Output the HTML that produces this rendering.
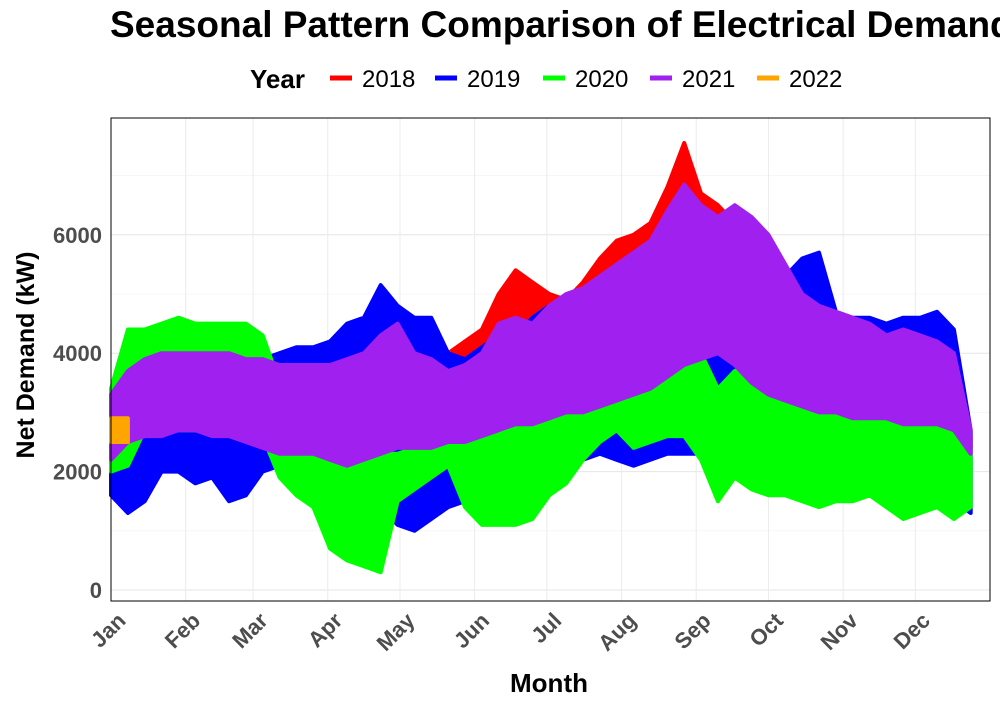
<!DOCTYPE html>
<html><head><meta charset="utf-8"><style>
body{margin:0;background:#fff;overflow:hidden;}
svg{display:block;font-family:"Liberation Sans",Arial,sans-serif;}
</style></head><body>
<svg id="chart" width="1000" height="708" viewBox="0 0 1000 708" xmlns="http://www.w3.org/2000/svg">
<rect x="0" y="0" width="1000" height="708" fill="#fff"/>
<text x="110" y="37" font-size="37" font-weight="bold" fill="#000">Seasonal Pattern Comparison of Electrical Demand</text>
<g id="legend">
<text x="250" y="88" font-size="26" font-weight="bold">Year</text>
</g>
<g id="grid"></g>
<g id="series"></g>
<rect x="111" y="118" width="879" height="483" fill="none" stroke="#000" stroke-width="1"/>
<g id="axes"></g>
<text x="549" y="692" font-size="26" font-weight="bold" text-anchor="middle">Month</text>
<text transform="translate(34,355) rotate(-90)" font-size="25" font-weight="bold" text-anchor="middle">Net Demand (kW)</text>
</svg>
<script>
const months=["Jan","Feb","Mar","Apr","May","Jun","Jul","Aug","Sep","Oct","Nov","Dec"];
const monthStartDay=[0,31,59,90,120,151,181,212,243,273,304,334];
const yTicks=[0,2000,4000,6000];
const years=["2018","2019","2020","2021","2022"];
const colors=["#ff0000","#0000ff","#00ff00","#a020f0","#ffa500"];
// weekly min / max values (kW)
const startWeek2018=20;
const min2018=[3000,3000,3000,3000,3000,3000,3000,3000,3000,3000,3000,3000,3000,3000,3000,3000,3000,3000,3000,3000,3000,3000,3000,3000,3000,3000,3000,3000,3000,3000,2800,2400];
const max2018=[4000,4200,4400,5000,5400,5200,5000,4900,5200,5600,5900,6000,6200,6800,7550,6700,6500,6200,6000,5950,5000,4800,4700,4600,4400,4300,4300,4300,3900,3600,3400,2600];
const min2019=[1600,1300,1500,2000,2000,1800,1900,1500,1600,2000,2100,1900,1800,1500,1500,1600,1400,1100,1000,1200,1400,1500,1600,1700,1800,1900,2000,2100,2200,2300,2200,2100,2200,2300,2300,2300,2400,2300,2200,2200,2000,2100,2200,2000,2000,2000,1900,2000,1800,1700,1500,1300];
const max2019=[2800,2900,2900,2900,2900,2900,2900,2900,3500,3900,4000,4100,4100,4200,4500,4600,5150,4800,4600,4600,4000,3900,4100,4300,4300,4600,4800,4900,4700,4500,4600,4900,5000,5300,5000,4900,5100,5300,5000,5300,5300,5600,5700,4700,4600,4600,4500,4600,4600,4700,4400,2700];
const min2020=[2000,2100,2700,2700,2700,2700,2700,2700,2700,2600,1900,1600,1400,700,500,400,300,1500,1700,1900,2100,1400,1100,1100,1100,1200,1600,1800,2200,2500,2700,2400,2500,2600,2600,2200,1500,1900,1700,1600,1600,1500,1400,1500,1500,1600,1400,1200,1300,1400,1200,1400];
const max2020=[3400,4400,4400,4500,4600,4500,4500,4500,4500,4300,3500,3100,2900,2400,2300,2300,2300,2300,2400,2600,2800,2900,2900,3000,3100,3000,3400,3600,3700,3700,3900,3900,4000,4000,3900,4000,3400,3700,3800,3800,3800,3400,3300,3100,3100,3200,3100,3200,3000,3200,3000,2700];
const min2021=[2200,2500,2600,2600,2700,2700,2600,2600,2500,2400,2300,2300,2300,2200,2100,2200,2300,2400,2400,2400,2500,2500,2600,2700,2800,2800,2900,3000,3000,3100,3200,3300,3400,3600,3800,3900,4000,3800,3500,3300,3200,3100,3000,3000,2900,2900,2900,2800,2800,2800,2700,2300];
const max2021=[3300,3700,3900,4000,4000,4000,4000,4000,3900,3900,3800,3800,3800,3800,3900,4000,4300,4500,4000,3900,3700,3800,4000,4500,4600,4500,4800,5000,5100,5300,5500,5700,5900,6400,6850,6500,6300,6500,6300,6000,5500,5000,4800,4700,4600,4500,4300,4400,4300,4200,4000,2700];
const startWeek2022=0;
const min2022=[2500,2500];
const max2022=[2900,2900];

const X0=111,X1=990,Y0=590,YK=0.0592;
const xDay=d=>X0+d*(X1-X0)/365;
const xWeek=w=>xDay(w*7);
const yVal=v=>Y0-v*YK;
const NS="http://www.w3.org/2000/svg";
function mk(tag,attrs,parent){const e=document.createElementNS(NS,tag);for(const k in attrs)e.setAttribute(k,attrs[k]);parent.appendChild(e);return e;}

const grid=document.getElementById('grid');
for(let v=0;v<=7000;v+=1000){
  const l=mk('line',{x1:X0,x2:X1,y1:yVal(v),y2:yVal(v),stroke:v%2000===0?'#e6e6e6':'#f0f0f0','stroke-width':v%2000===0?1:0.6},grid);
  
  
}
monthStartDay.forEach(d=>{
  const l=mk('line',{x1:xDay(d),x2:xDay(d),y1:118,y2:601,stroke:'#ebebeb','stroke-width':1},grid);
  
  
});

const seriesG=document.getElementById('series');
function band(mins,maxs,start,color,name){
  const pts=[];
  for(let i=0;i<maxs.length;i++)pts.push(xWeek(start+i).toFixed(1)+','+yVal(maxs[i]).toFixed(1));
  for(let i=mins.length-1;i>=0;i--)pts.push(xWeek(start+i).toFixed(1)+','+yVal(mins[i]).toFixed(1));
  const p=mk('polygon',{points:pts.join(' '),fill:color,stroke:color,'stroke-width':4,'stroke-linejoin':'round'},seriesG);
  
  
}
band(min2018,max2018,startWeek2018,colors[0],'series-2018');
band(min2019,max2019,0,colors[1],'series-2019');
band(min2020,max2020,0,colors[2],'series-2020');
band(min2021,max2021,0,colors[3],'series-2021');
band(min2022,max2022,startWeek2022,colors[4],'series-2022');

const axes=document.getElementById('axes');
yTicks.forEach(v=>{
  const t=mk('text',{x:102,y:yVal(v)+8,'font-size':22,'font-weight':'bold',fill:'#4d4d4d','text-anchor':'end'},axes);
  t.textContent=v;
  
  
});
months.forEach((m,i)=>{
  const x=xDay(monthStartDay[i]);
  const t=mk('text',{transform:`translate(${x+16},${622}) rotate(-45)`,'font-size':22,'font-weight':'bold',fill:'#4d4d4d','text-anchor':'end'},axes);
  t.textContent=m;
  
  
});

const legend=document.getElementById('legend');
const legX=[330,435,543,650,757];
years.forEach((y,i)=>{
  const l=mk('line',{x1:legX[i],x2:legX[i]+22,y1:78,y2:78,stroke:colors[i],'stroke-width':5},legend);
  
  
  const t=mk('text',{x:legX[i]+32,y:87,'font-size':24,fill:'#000'},legend);
  t.textContent=y;
  
  
});
</script>
</body></html>
